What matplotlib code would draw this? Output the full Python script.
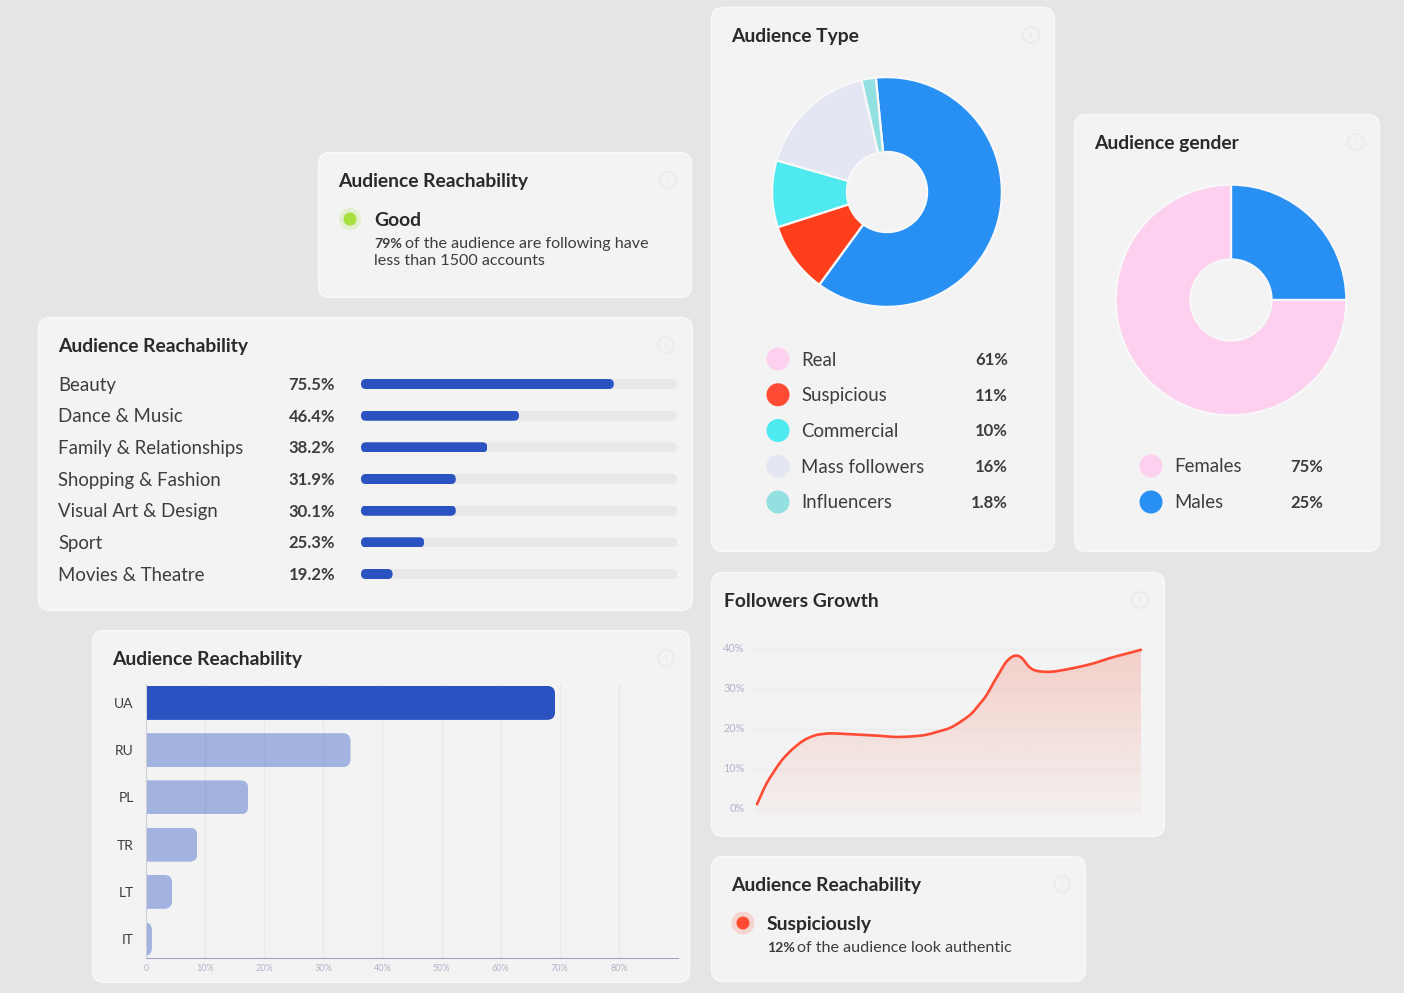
import numpy as np
import matplotlib
matplotlib.use("Agg")
import matplotlib.pyplot as plt
from matplotlib.patches import FancyBboxPatch, Circle, PathPatch
from matplotlib.path import Path
from matplotlib.transforms import ScaledTranslation

plt.rcParams['font.family'] = ['Lato', 'DejaVu Sans']

W, H = 1404, 993

# ---- data
interest_labels = ["Beauty", "Dance & Music", "Family & Relationships", "Shopping & Fashion",
                   "Visual Art & Design", "Sport", "Movies & Theatre"]
interest_text = ["75.5%", "46.4%", "38.2%", "31.9%", "30.1%", "25.3%", "19.2%"]
interest_fill = [80, 50, 40, 30, 30, 20, 10]

country_labels = ["UA", "RU", "PL", "TR", "LT", "IT"]
country_values = [69.2, 34.6, 17.3, 8.7, 4.4, 1.0]
country_ticks = [0, 10, 20, 30, 40, 50, 60, 70, 80]
country_ticklabels = ["0", "10%", "20%", "30%", "40%", "50%", "60%", "70%", "80%"]

type_labels = ["Real", "Suspicious", "Commercial", "Mass followers", "Influencers"]
type_text = ["61%", "11%", "10%", "16%", "1.8%"]
type_arcs = [61.6, 10.0, 9.4, 17.0, 2.0]
type_pie_colors = ["#2790f2", "#ff3f1c", "#4eeaf0", "#e4e6f3", "#93e0e0"]
type_key_colors = ["#fdd0ef", "#ff4b33", "#4eeaf0", "#e4e6f3", "#93e0e0"]

gender_labels = ["Females", "Males"]
gender_text = ["75%", "25%"]
gender_values = [75, 25]
gender_colors = ["#fdd0ef", "#2790f2"]

growth_x = [0, 1.2, 2.5, 4.25, 6.4, 9.0, 12.1, 15.1, 17.7, 19.9, 24.2, 32, 36.4, 41.6, 44.2, 46.8,
            50.3, 53.3, 55.9, 58.1, 59.8, 61.5, 63.3, 64.6, 65.9, 66.9, 67.9, 68.9, 69.8, 70.8,
            72, 73.7, 76.3, 78.9, 83.2, 87.6, 91.8, 96.1, 100]
growth_y = [1.2, 3.75, 6.4, 9.1, 12.1, 14.75, 17.1, 18.4, 18.8, 18.9, 18.7, 18.3, 18, 18.25, 18.6, 19.25,
            20.3, 22, 23.9, 26.4, 28.5, 31.4, 34.3, 36.4, 37.7, 38.25, 38.3, 37.8, 36.8, 35.6,
            34.8, 34.4, 34.3, 34.6, 35.4, 36.4, 37.7, 38.8, 39.8]
growth_ticks = [0, 10, 20, 30, 40]

# ---- style
BG, CARD = "#e5e5e5", "#f3f3f3"
INK, BODY, MUTED = "#2a2a2a", "#3d3d3d", "#b2b4c8"
BLUE = "#2a53c1"
BODY_SIZE, TITLE_SIZE, VALUE_SIZE = 13.4, 13.9, 12.0

fig = plt.figure(figsize=(W / 100, H / 100), dpi=100, facecolor=BG)
bg = fig.add_axes([0, 0, 1, 1])
bg.set_xlim(0, W)
bg.set_ylim(H, 0)
bg.axis("off")


def sub_axes(x0, y0, x1, y1):
    ax = fig.add_axes([x0 / W, 1 - y1 / H, (x1 - x0) / W, (y1 - y0) / H])
    ax.patch.set_alpha(0)
    return ax


def txt(x, y, s, size=BODY_SIZE, weight="normal", color=BODY, ha="left"):
    bg.text(x - (1 if ha == "left" else 0), y + 1, s, fontsize=size, fontweight=weight,
            color=color, ha=ha, va="center")


def card(x0, y0, x1, y1, title, tx, ty, ix, iy):
    bg.add_patch(FancyBboxPatch((x0 + 0.6, y0 + 0.6), x1 - x0 - 1.2, y1 - y0 - 1.2,
                                boxstyle="round,pad=0,rounding_size=12",
                                fc=CARD, ec="#f8f8f8", lw=1.2, zorder=1))
    txt(tx, ty, title, size=TITLE_SIZE, weight="bold", color=INK)
    bg.add_patch(Circle((ix, iy), 8, fc="none", ec="#ebebeb", lw=1.3, zorder=2))
    bg.text(ix, iy, "i", fontsize=7, color="#e6e6e6", ha="center", va="center", zorder=2)


def disc(x, y, r, color):
    bg.add_patch(Circle((x, y), r, fc=color, ec="none", zorder=3))


def rounded_clip(ax, bar, r_px, x_start=None):
    """Clip a bar to a rounded box, expressed in the bar's own data coordinates."""
    px_x = ax.get_position().width * W / np.diff(ax.get_xlim())[0]
    px_y = ax.get_position().height * H / abs(np.diff(ax.get_ylim())[0])
    x, y, w, h = bar.get_x(), bar.get_y(), bar.get_width(), bar.get_height()
    left = x if x_start is None else x_start
    box = FancyBboxPatch((left, y), x + w - left, h,
                         boxstyle=f"round,pad=0,rounding_size={r_px / px_x}",
                         mutation_aspect=px_x / px_y, transform=ax.transData)
    bar.set_clip_path(box)


card(318, 152, 692, 298, "Audience Reachability", 339, 180.5, 668, 180)
card(38, 317, 693, 611, "Audience Reachability", 59, 345.5, 666, 345)
card(92, 630, 690, 983, "Audience Reachability", 113, 658.5, 666, 658)
card(711, 7, 1055, 552, "Audience Type", 732, 35.5, 1031, 35)
card(1074, 114, 1380, 552, "Audience gender", 1095, 142.5, 1356, 142)
card(711, 572, 1165, 837, "Followers Growth", 725, 600.5, 1140, 600)
card(711, 856, 1086, 982, "Audience Reachability", 732, 884.5, 1062, 884)

# ---- status cards
disc(350, 219, 11, "#e2f0cf")
disc(350, 219, 6.5, "#a6e03c")
txt(375, 219, "Good", size=TITLE_SIZE, weight="bold", color=INK)
txt(375, 243, "79%", size=10.2, weight="bold")
txt(406, 243, "of the audience are following have", size=11.6)
txt(375, 260, "less than 1500 accounts", size=11.6)

disc(743, 923, 11.5, "#f6d5d0")
disc(743, 923, 6.5, "#ff4b33")
txt(768, 923.5, "Suspiciously", size=TITLE_SIZE, weight="bold", color=INK)
txt(768, 947, "12%", size=10.2, weight="bold")
txt(798, 947, "of the audience look authentic", size=11.6)

# ---- progress bars
row0, rowstep = 384, 31.67
ax = sub_axes(361, row0 - rowstep / 2, 677, row0 + 6.5 * rowstep)
ax.set_xlim(0, 100)
ax.set_ylim(6.5, -0.5)
ax.axis("off")
rows = np.arange(len(interest_labels))
tracks = ax.barh(rows, [100] * len(rows), height=0.32, color="#e8e8e8")
fills = ax.barh(rows, interest_fill, height=0.32, color=BLUE)
for b in list(tracks) + list(fills):
    rounded_clip(ax, b, 5)
for i, (lab, val) in enumerate(zip(interest_labels, interest_text)):
    txt(59.5, row0 + i * rowstep, lab)
    txt(335, row0 + i * rowstep, val, size=VALUE_SIZE, weight="bold", ha="right")

# ---- country bars
ax = sub_axes(146, 684, 678, 958)
ax.set_xlim(0, 90)
ax.set_ylim(5.4, -0.4)
pos = np.arange(len(country_labels))
ax.set_axisbelow(True)
ax.grid(axis="x", color="#e9e9e9", lw=0.9)
bars = ax.barh(pos, country_values, height=0.72, color=BLUE)
for i, b in enumerate(bars):
    b.set_alpha(1 if i == 0 else 0.40)
    rounded_clip(ax, b, 8, x_start=-5)
ax.set_yticks(pos, country_labels, fontsize=10, color=BODY)
ax.set_xticks(country_ticks, country_ticklabels, fontsize=6.5, color=MUTED)
ax.tick_params(length=0)
ax.tick_params(axis="y", pad=9)
ax.tick_params(axis="x", pad=4)
for s in ("top", "right"):
    ax.spines[s].set_visible(False)
ax.spines["bottom"].set_color("#9ea3c8")
ax.spines["left"].set_color("#cfcfdc")


# ---- donuts
def donut(cx, cy, r, rin, values, colors, start):
    ax = sub_axes(cx - r, cy - r, cx + r, cy + r)
    ax.pie(values, colors=colors, startangle=start, counterclock=False, radius=1,
           wedgeprops=dict(width=1 - rin / r, edgecolor="#f8f8f8", linewidth=1.6))
    ax.set_xlim(-1.01, 1.01)
    ax.set_ylim(-1.01, 1.01)


donut(887, 192, 116, 40.5, type_arcs, type_pie_colors, 95.6)
donut(1231, 300, 116.5, 41, gender_values[::-1], gender_colors[::-1], 90)

for i, (lab, val, col) in enumerate(zip(type_labels, type_text, type_key_colors)):
    y = 359 + i * 35.75
    disc(778, y, 11.5, col)
    txt(802, y, lab)
    txt(1008, y, val, size=VALUE_SIZE, weight="bold", ha="right")

for i, (lab, val, col) in enumerate(zip(gender_labels, gender_text, gender_colors)):
    y = 466 + i * 36
    disc(1151, y, 11.5, col)
    txt(1175, y, lab)
    txt(1323, y, val, size=VALUE_SIZE, weight="bold", ha="right")

# ---- followers growth
ax = sub_axes(757, 641, 1141, 830)
ax.set_xlim(0, 100)
ax.set_ylim(-5.25, 42)
for s in ax.spines.values():
    s.set_visible(False)
ax.set_xticks([])
ax.set_yticks(growth_ticks, [f"{t}%" for t in growth_ticks], fontsize=7.8, color=MUTED)
ax.tick_params(axis="y", length=0, pad=9)
lift = ScaledTranslation(0, 1.5 / 100, fig.dpi_scale_trans)
for lab in ax.get_yticklabels():
    lab.set_transform(lab.get_transform() + lift)
ax.hlines(growth_ticks, -1.3, 100, color="#ebebeb", lw=1, clip_on=False, zorder=1)
area = ax.fill_between(growth_x, growth_y, -5, facecolor="none", edgecolor="none")
grad = np.zeros((256, 1, 4))
grad[..., :3] = matplotlib.colors.to_rgb("#f76c55")
grad[:, 0, 3] = np.linspace(0.27, 0.0, 256)
im = ax.imshow(grad, extent=(0, 100, -5, 40), origin="upper", aspect="auto", zorder=2)
im.set_clip_path(area.get_paths()[0], transform=ax.transData)
ax.set_xlim(0, 100)
ax.set_ylim(-5.25, 42)

# smooth curve through the read points (Catmull-Rom handles as cubic Bezier segments)
pts = np.column_stack([growth_x, growth_y])
ext = np.vstack([pts[0], pts, pts[-1]])
verts, codes = [pts[0]], [Path.MOVETO]
for k in range(1, len(ext) - 2):
    p0, p1, p2, p3 = ext[k - 1], ext[k], ext[k + 1], ext[k + 2]
    verts += [p1 + (p2 - p0) / 6, p2 - (p3 - p1) / 6, p2]
    codes += [Path.CURVE4] * 3
ax.add_patch(PathPatch(Path(verts, codes), fc="none", ec="#ff4b33", lw=1.9, capstyle="round",
                       joinstyle="round", zorder=3, clip_on=False))

fig.savefig("out.png", dpi=100, facecolor=BG)
